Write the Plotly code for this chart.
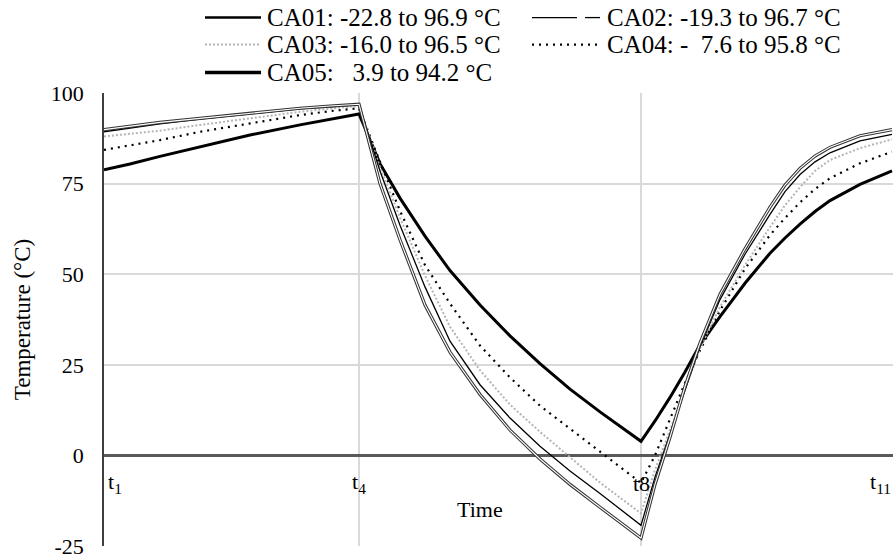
import plotly.graph_objects as go

# time axis (arbitrary units; t1=0, t4=255, t8=537, t11=789)
time = [0, 26, 56, 96, 146, 196, 226, 255,
        276, 296, 321, 346, 376, 406, 436, 466, 496, 537,
        551, 566, 581, 596, 616, 641, 666, 681, 696, 711, 726, 756, 788]

ca01 = [89.9, 90.8, 91.9, 93.0, 94.4, 95.8, 96.4, 96.9,
        75.0, 59.5, 41.5, 28.5, 16.8, 7.0, -1.0, -8.0, -14.3, -22.8,
        -8.0, 5.0, 19.0, 31.0, 44.5, 57.0, 68.5, 74.6, 79.2, 82.6, 85.0, 88.2, 89.9]
ca02 = [89.3, 90.3, 91.5, 92.8, 94.2, 95.6, 96.2, 96.7,
        78.5, 63.5, 46.5, 31.5, 19.5, 10.3, 2.5, -4.3, -10.5, -19.3,
        -6.0, 6.0, 18.0, 30.0, 43.0, 55.5, 66.5, 72.8, 77.5, 81.0, 83.5, 86.8, 88.6]
ca03 = [88.0, 88.7, 89.6, 91.2, 93.1, 94.8, 95.7, 96.5,
        79.5, 65.6, 49.6, 35.5, 23.5, 14.0, 6.5, -0.6, -7.5, -16.0,
        -4.0, 7.0, 18.5, 29.5, 41.0, 52.5, 63.0, 69.0, 74.0, 78.5, 81.5, 84.8, 87.2]
ca04 = [84.3, 85.6, 87.0, 89.3, 91.7, 93.9, 95.0, 95.8,
        81.0, 67.5, 52.5, 41.9, 30.3, 21.5, 13.7, 7.3, 0.9, -7.6,
        0.0, 10.0, 20.0, 29.0, 40.0, 51.5, 60.8, 65.5, 69.8, 73.5, 76.5, 80.6, 83.8]
ca05 = [78.8, 80.4, 82.5, 85.2, 88.4, 91.2, 92.8, 94.2,
        80.5, 71.0, 60.5, 51.0, 41.5, 33.0, 25.3, 18.3, 12.0, 3.9,
        9.5, 16.0, 23.0, 30.5, 38.3, 47.5, 55.8, 60.0, 63.8, 67.3, 70.3, 74.8, 78.5]

tick_times = [0, 255, 537, 789]
tick_labels = ["t<sub>1</sub>", "t<sub>4</sub>", "t8", "t<sub>11</sub>"]
y_ticks = [-25, 0, 25, 50, 75, 100]
y_tick_text = ["-25", "0", "25", "50", "75", "100"]
legend_labels = ["CA01: -22.8 to 96.9 °C", "CA02: -19.3 to 96.7 °C",
                 "CA03: -16.0 to 96.5 °C", "CA04: -  7.6 to 95.8 °C",
                 "CA05:   3.9 to 94.2 °C"]

FONT = "Liberation Serif"
W, H = 895, 560
L, R, T, B = 104, 2, 92.5, 14
PW, PH = W - L - R, H - T - B

def px(x):
    return (x - L) / PW

def py(y):
    return (H - B - y) / PH

fig = go.Figure()
fig.add_trace(go.Scatter(x=time, y=ca05, mode="lines",
                         line=dict(color="#000000", width=3)))
fig.add_trace(go.Scatter(x=time, y=ca04, mode="lines",
                         line=dict(color="#000000", width=2.2, dash="2px,5px")))
fig.add_trace(go.Scatter(x=time, y=ca03, mode="lines",
                         line=dict(color="#b5b5b5", width=2, dash="2px,2px")))
fig.add_trace(go.Scatter(x=time, y=ca02, mode="lines",
                         line=dict(color="#000000", width=1.3)))
fig.add_trace(go.Scatter(x=time, y=ca01, mode="lines",
                         line=dict(color="#333333", width=3.2)))
fig.add_trace(go.Scatter(x=time, y=ca01, mode="lines",
                         line=dict(color="#ffffff", width=1.1)))

annotations = []
shapes = []

# x tick labels
for i, (t, lab) in enumerate(zip(tick_times, tick_labels)):
    anchor = "center"
    xx = t
    if i == 0:
        anchor = "left"
        xx = 2
    elif i == len(tick_times) - 1:
        anchor = "right"
    annotations.append(dict(x=xx, y=0, xref="x", yref="y", text=lab,
                            showarrow=False, xanchor=anchor, yanchor="middle",
                            yshift=-28, font=dict(family=FONT, size=22, color="#000")))

annotations.append(dict(x=376, y=0, xref="x", yref="y", text="Time",
                        showarrow=False, xanchor="center", yanchor="middle",
                        yshift=-54, font=dict(family=FONT, size=22, color="#000")))
annotations.append(dict(x=px(22), y=py(320), xref="paper", yref="paper",
                        text="Temperature (°C)", textangle=-90, showarrow=False,
                        xanchor="center", yanchor="middle",
                        font=dict(family=FONT, size=23, color="#000")))

# legend (manual)
LFS = 25
rows = [17, 44, 72]
col1_line = (205, 261)
col1_text = 265
col2_line = (532, 600)
col2_text = 605
entries = [
    (col1_line, col1_text, rows[0], legend_labels[0], dict(color="#000", width=2.5)),
    (col2_line, col2_text, rows[0], legend_labels[1], None),
    (col1_line, col1_text, rows[1], legend_labels[2], dict(color="#b5b5b5", width=2, dash="2px,2px")),
    (col2_line, col2_text, rows[1], legend_labels[3], dict(color="#000", width=2.2, dash="2px,5px")),
    (col1_line, col1_text, rows[2], legend_labels[4], dict(color="#000", width=3.5)),
]
for (x0, x1), tx, yy, lab, ln in entries:
    if ln is None:
        shapes.append(dict(type="line", xref="paper", yref="paper",
                           x0=px(x0), x1=px(x0 + 45), y0=py(yy), y1=py(yy),
                           line=dict(color="#000", width=1.3)))
        shapes.append(dict(type="line", xref="paper", yref="paper",
                           x0=px(x1 - 15), x1=px(x1), y0=py(yy), y1=py(yy),
                           line=dict(color="#000", width=1.3)))
    else:
        shapes.append(dict(type="line", xref="paper", yref="paper",
                           x0=px(x0), x1=px(x1), y0=py(yy), y1=py(yy), line=ln))
    annotations.append(dict(x=px(tx), y=py(yy), xref="paper", yref="paper",
                            text=lab, showarrow=False, xanchor="left", yanchor="middle",
                            font=dict(family=FONT, size=LFS, color="#000")))

fig.update_layout(
    width=W, height=H,
    margin=dict(l=L, r=R, t=T, b=B),
    paper_bgcolor="white", plot_bgcolor="white",
    showlegend=False,
    annotations=annotations,
    shapes=shapes,
    xaxis=dict(range=[0, 789], tickvals=tick_times[1:], showticklabels=False,
               showgrid=True, gridcolor="#d9d9d9", gridwidth=1.5,
               zeroline=False, showline=False, ticks=""),
    yaxis=dict(range=[-25, 100], tickvals=y_ticks, ticktext=y_tick_text,
               showgrid=True, gridcolor="#d9d9d9", gridwidth=1.5,
               zeroline=True, zerolinecolor="#595959", zerolinewidth=2.5,
               showline=True, linecolor="#404040", linewidth=1.5,
               ticks="", ticklabelstandoff=14,
               tickfont=dict(family=FONT, size=22, color="#000")),
)

fig.write_html("out.html")
